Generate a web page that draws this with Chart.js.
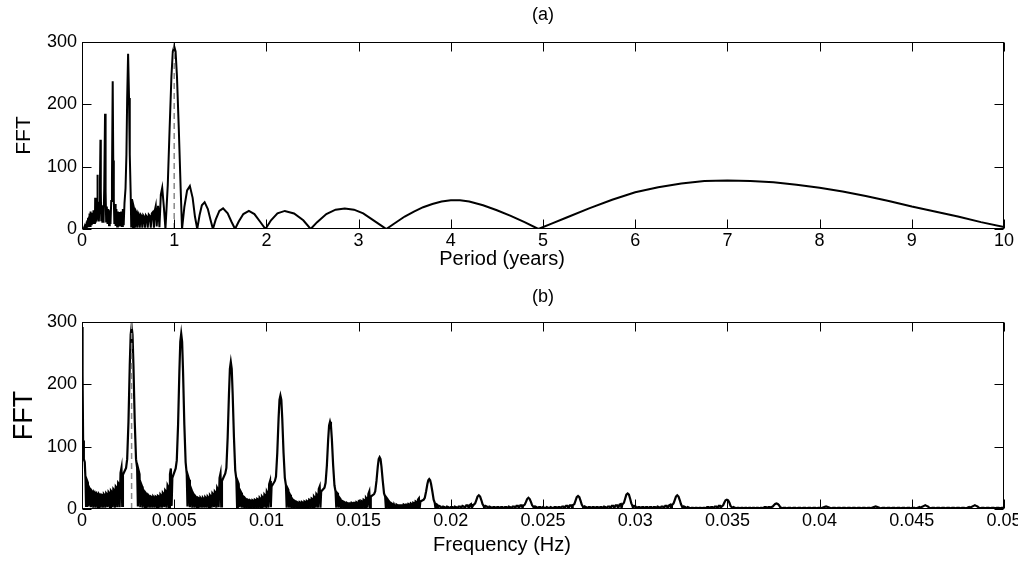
<!DOCTYPE html>
<html>
<head>
<meta charset="utf-8">
<script src="https://cdn.jsdelivr.net/npm/chart.js@4.4.1/dist/chart.umd.min.js"></script>
<style>
  html, body { margin: 0; padding: 0; background: #fff; }
  .panel { position: absolute; left: 0; width: 1018px; height: 282px; }
  #top { top: 0; }
  #bottom { top: 282px; }
</style>
</head>
<body>
<div class="panel" id="top"><canvas id="chartA" width="1018" height="282"></canvas></div>
<div class="panel" id="bottom"><canvas id="chartB" width="1018" height="282"></canvas></div>
<script>
// tick labels
var periodTickLabels = ['0', '1', '2', '3', '4', '5', '6', '7', '8', '9', '10'];
var freqTickLabels = ['0', '0.005', '0.01', '0.015', '0.02', '0.025', '0.03', '0.035', '0.04', '0.045', '0.05'];
var fftTickLabels = ['0', '100', '200', '300'];

// dashed marker (one year)
var markPeriod = 1;
var markFreq = 0.00269;

// (a) FFT vs period, [years, FFT]
var periodSpec = [
  [0,0],[0.02,1],[0.03,5],[0.035,1],[0.04,8],[0.045,2],[0.05,12],[0.054,2],[0.058,14],[0.062,3],
  [0.066,18],[0.069,3],[0.0714,12],[0.074,4],[0.077,20],[0.08,5],[0.0833,25],[0.087,5],[0.0909,28],[0.095,6],
  [0.1,26],[0.105,6],[0.111,24],[0.118,8],[0.125,30],[0.13,10],[0.136,22],[0.14,8],[0.143,50],[0.147,10],
  [0.152,28],[0.158,12],[0.163,40],[0.167,87],[0.171,15],[0.177,35],[0.183,12],[0.19,42],[0.195,75],[0.2,143],
  [0.204,60],[0.209,14],[0.215,35],[0.221,10],[0.228,38],[0.234,10],[0.241,65],[0.25,185],[0.256,60],[0.262,12],
  [0.269,36],[0.277,8],[0.285,32],[0.293,6],[0.301,30],[0.309,8],[0.317,45],[0.325,80],[0.333,237],[0.339,110],
  [0.345,48],[0.351,8],[0.358,40],[0.365,5],[0.373,32],[0.381,4],[0.389,28],[0.398,4],[0.407,27],[0.416,4],
  [0.425,28],[0.434,5],[0.443,32],[0.452,6],[0.461,42],[0.472,65],[0.482,120],[0.49,210],[0.5,281],[0.51,210],
  [0.518,120],[0.528,56],[0.534,4],[0.541,48],[0.548,40],[0.554,3],[0.562,35],[0.57,30],[0.577,2],[0.586,28],
  [0.594,25],[0.601,2],[0.61,25],[0.619,22],[0.627,2],[0.636,23],[0.645,21],[0.654,2],[0.664,22],[0.673,20],
  [0.683,2],[0.693,22],[0.703,20],[0.713,2],[0.724,23],[0.735,21],[0.746,2],[0.757,25],[0.768,27],[0.78,2],
  [0.79,30],[0.8,37],[0.81,4],[0.825,37],[0.84,3],[0.855,55],[0.87,66],[0.888,35],[0.905,0],
  [0.93,70],[0.95,160],[0.97,245],[0.985,285],[1,293],[1.015,285],[1.03,245],[1.05,160],[1.07,65],[1.085,0],
  [1.11,35],[1.14,62],[1.17,69],[1.2,50],[1.225,20],[1.25,0],
  [1.275,22],[1.3,38],[1.33,43],[1.365,32],[1.395,14],[1.42,0],
  [1.45,15],[1.49,29],[1.53,33],[1.58,25],[1.62,12],[1.66,0],
  [1.7,12],[1.75,24],[1.81,29],[1.87,24],[1.93,12],[1.99,0],
  [2.05,14],[2.12,25],[2.2,29],[2.3,25],[2.4,14],[2.48,0],
  [2.55,11],[2.65,24],[2.75,31],[2.85,33],[2.95,31],[3.05,25],[3.15,15],[3.25,5],[3.3,0],
  [3.4,10],[3.5,20],[3.6,28],[3.7,35],[3.8,40],[3.9,44],[4,46],[4.1,46],[4.2,44],[4.35,38],
  [4.5,30],[4.65,21],[4.8,11],[4.95,0],
  [5.1,9],[5.25,18],[5.5,33],[5.75,47],[6,59],[6.25,67],[6.5,73],[6.75,77],[7,78],[7.25,77],
  [7.5,75],[7.75,71],[8,66],[8.25,60],[8.5,53],[8.75,45],[9,36],[9.25,28],[9.5,20],[9.75,11],[10,3]
];

// (b) FFT vs frequency, [Hz, FFT]
var freqSpec = [
  [0,292],[0.00003,215],[0.00006,110],[0.0001,80],[0.00015,75],[0.00019,48],[0.00022,5],
  [0.00027,46],[0.00032,42],[0.00035,4],[0.0004,34],[0.00045,31],[0.00048,3],
  [0.00053,29],[0.00058,27],[0.00061,2],[0.00066,27],[0.00071,25],[0.00074,2],
  [0.00079,25],[0.00084,23],[0.00087,2],[0.00092,24],[0.00097,22],[0.001,2],
  [0.00105,23],[0.0011,22],[0.00113,2],[0.00118,24],[0.00123,22],[0.00126,2],
  [0.00131,25],[0.00136,23],[0.00139,3],[0.00144,27],[0.00149,25],[0.00152,2],
  [0.00157,29],[0.00162,27],[0.00165,3],[0.0017,32],[0.00175,30],[0.00178,2],
  [0.00183,36],[0.00188,34],[0.00191,3],[0.00196,42],[0.00201,40],[0.00204,3],
  [0.00209,58],[0.00214,66],[0.00218,5],
  [0.00222,55],[0.00239,66],[0.00245,80],[0.00252,140],[0.00259,230],[0.00264,280],[0.00269,293],
  [0.00274,280],[0.00279,230],[0.00286,140],[0.00293,80],[0.00299,66],[0.00303,4],
  [0.00307,62],[0.00312,56],[0.00316,3],[0.00321,40],[0.00326,36],[0.00329,2],
  [0.00334,30],[0.00339,27],[0.00342,2],[0.00347,25],[0.00352,23],[0.00355,2],
  [0.0036,22],[0.00365,20],[0.00368,2],[0.00373,20],[0.00378,19],[0.00381,2],
  [0.00386,20],[0.00391,18],[0.00394,2],[0.00399,20],[0.00404,19],[0.00407,2],
  [0.00412,21],[0.00417,20],[0.0042,2],[0.00425,23],[0.0043,21],[0.00433,2],
  [0.00438,26],[0.00443,24],[0.00446,3],[0.00451,30],[0.00456,28],[0.00459,2],
  [0.00464,38],[0.00469,35],[0.00472,3],[0.00477,56],[0.00482,65],[0.00486,5],
  [0.0049,50],[0.00508,65],[0.00514,78],[0.00521,135],[0.00528,220],[0.00533,268],[0.00538,281],
  [0.00543,268],[0.00548,220],[0.00555,135],[0.00562,75],[0.00568,56],[0.00572,4],
  [0.00576,52],[0.00581,47],[0.00585,3],[0.0059,34],[0.00595,30],[0.00598,2],
  [0.00603,25],[0.00608,22],[0.00611,2],[0.00616,20],[0.00621,18],[0.00624,2],
  [0.00629,18],[0.00634,17],[0.00637,2],[0.00642,18],[0.00647,16],[0.0065,2],
  [0.00655,18],[0.0066,16],[0.00663,2],[0.00668,19],[0.00673,17],[0.00676,2],
  [0.00681,20],[0.00686,18],[0.00689,2],[0.00694,22],[0.00699,20],[0.00702,2],
  [0.00707,25],[0.00712,23],[0.00715,3],[0.0072,28],[0.00725,26],[0.00728,2],
  [0.00733,34],[0.00738,31],[0.00741,3],[0.00746,50],[0.00751,57],[0.00755,4],
  [0.00759,45],[0.00777,57],[0.00783,66],[0.0079,115],[0.00797,185],[0.00802,225],[0.00807,236],
  [0.00812,225],[0.00817,185],[0.00824,115],[0.00831,62],[0.00837,48],[0.00841,3],
  [0.00845,44],[0.0085,40],[0.00854,3],[0.00859,29],[0.00864,26],[0.00867,2],
  [0.00872,21],[0.00877,19],[0.0088,1],[0.00885,17],[0.0089,15],[0.00893,1],
  [0.00898,15],[0.00903,14],[0.00906,1],[0.00911,14],[0.00916,13],[0.00919,1],
  [0.00924,14],[0.00929,13],[0.00932,1],[0.00937,15],[0.00942,14],[0.00945,1],
  [0.0095,16],[0.00955,15],[0.00958,1],[0.00963,18],[0.00968,16],[0.00971,2],
  [0.00976,20],[0.00981,18],[0.00984,2],[0.00989,23],[0.00994,21],[0.00997,2],
  [0.01002,28],[0.01007,25],[0.0101,2],[0.01015,40],[0.0102,45],[0.01024,3],
  [0.01028,36],[0.01046,45],[0.01052,52],[0.01059,90],[0.01066,145],[0.01071,175],[0.01076,182],
  [0.01081,175],[0.01086,145],[0.01093,90],[0.011,50],[0.01106,38],[0.0111,2],
  [0.01114,34],[0.01119,31],[0.01123,2],[0.01128,23],[0.01133,20],[0.01136,1],
  [0.01141,16],[0.01146,14],[0.01149,1],[0.01154,13],[0.01159,12],[0.01162,1],
  [0.01167,11],[0.01172,10],[0.01175,1],[0.0118,11],[0.01185,10],[0.01188,1],
  [0.01193,11],[0.01198,10],[0.01201,1],[0.01206,12],[0.01211,11],[0.01214,1],
  [0.01219,13],[0.01224,12],[0.01227,1],[0.01232,15],[0.01237,14],[0.0124,1],
  [0.01245,17],[0.0125,16],[0.01253,1],[0.01258,20],[0.01263,18],[0.01266,2],
  [0.01271,24],[0.01276,22],[0.01279,2],[0.01284,32],[0.01289,36],[0.01293,2],
  [0.01297,28],[0.01315,34],[0.01321,42],[0.01328,70],[0.01335,112],[0.0134,134],[0.01345,140],
  [0.0135,134],[0.01355,112],[0.01362,70],[0.01369,38],[0.01375,28],[0.01379,2],
  [0.01383,26],[0.01388,24],[0.01392,2],[0.01397,18],[0.01402,16],[0.01405,1],
  [0.0141,13],[0.01415,12],[0.01418,1],[0.01423,11],[0.01428,10],[0.01431,1],
  [0.01436,10],[0.01441,9],[0.01444,1],[0.01449,9],[0.01454,9],[0.01457,1],
  [0.01462,10],[0.01467,9],[0.0147,1],[0.01475,10],[0.0148,10],[0.01483,1],
  [0.01488,11],[0.01493,10],[0.01496,1],[0.01501,12],[0.01506,11],[0.01509,1],
  [0.01514,13],[0.01519,12],[0.01522,1],[0.01527,15],[0.01532,14],[0.01535,1],
  [0.0154,18],[0.01545,16],[0.01548,2],[0.01553,24],[0.01558,28],[0.01562,2],
  [0.01566,20],[0.01584,24],[0.0159,28],[0.01597,45],[0.01604,68],[0.01609,80],[0.01614,83],
  [0.01619,80],[0.01624,68],[0.01631,45],[0.01638,25],[0.01644,20],[0.01648,1],
  [0.01652,18],[0.01657,16],[0.01661,1],[0.01666,12],[0.01671,10],[0.01674,1],
  [0.01679,9],[0.01684,8],[0.01687,1],[0.01692,7],[0.01697,7],[0.017,1],
  [0.01705,7],[0.0171,6],[0.01713,1],[0.01718,6],[0.01723,6],[0.01726,1],
  [0.01731,6],[0.01736,6],[0.01739,1],[0.01744,7],[0.01749,6],[0.01752,1],
  [0.01757,7],[0.01762,7],[0.01765,1],[0.0177,8],[0.01775,7],[0.01778,1],
  [0.01783,9],[0.01788,8],[0.01791,1],[0.01796,10],[0.01801,9],[0.01804,1],
  [0.01809,12],[0.01814,11],[0.01817,1],[0.01822,15],[0.01827,17],[0.01831,1],
  [0.01835,12],[0.01853,15],[0.01859,18],[0.01866,28],[0.01873,40],[0.01878,46],[0.01883,48],
  [0.01888,46],[0.01893,40],[0.019,28],[0.01907,15],[0.01913,10],[0.01917,1],
  [0.01921,8],[0.01926,7],[0.0193,1],[0.01937,5],[0.01945,4],[0.0195,1],
  [0.01958,4],[0.01966,3],[0.01971,1],[0.01979,4],[0.01987,3],[0.01992,1],
  [0.02,3],[0.02008,3],[0.02013,1],[0.02021,4],[0.02029,3],[0.02034,1],
  [0.02042,4],[0.0205,4],[0.02055,1],[0.02063,5],[0.02071,4],[0.02076,1],
  [0.02084,6],[0.02092,6],[0.02097,1],[0.02105,7],[0.0211,8],[0.02114,2],
  [0.02122,6],[0.02132,9],[0.02138,14],[0.02145,20],[0.02152,22],[0.02159,20],[0.02166,14],[0.02172,8],[0.02178,5],[0.02182,1],
  [0.02188,5],[0.02196,4],[0.02201,1],[0.02209,4],[0.02217,3],[0.02222,1],
  [0.0223,3],[0.02238,3],[0.02243,1],[0.02251,3],[0.02259,3],[0.02264,1],
  [0.02272,3],[0.0228,3],[0.02285,1],[0.02293,3],[0.02301,3],[0.02306,1],
  [0.02314,4],[0.02322,3],[0.02327,1],[0.02335,4],[0.02343,4],[0.02348,1],
  [0.02356,5],[0.02364,5],[0.02369,1],[0.02377,6],[0.02385,6],[0.02389,1],
  [0.02392,5],[0.02401,7],[0.02407,11],[0.02414,16],[0.02421,18],[0.02428,16],[0.02435,11],[0.02441,6],[0.02447,4],[0.02451,1],
  [0.02457,4],[0.02465,3],[0.0247,1],[0.02478,3],[0.02486,3],[0.02491,1],
  [0.02499,3],[0.02507,2],[0.02512,1],[0.0252,3],[0.02528,2],[0.02533,1],
  [0.02541,3],[0.02549,2],[0.02554,1],[0.02562,3],[0.0257,3],[0.02575,1],
  [0.02583,3],[0.02591,3],[0.02596,1],[0.02604,4],[0.02612,4],[0.02617,1],
  [0.02625,5],[0.02633,5],[0.02638,1],[0.02646,6],[0.02654,6],[0.02658,1],
  [0.02661,6],[0.0267,8],[0.02676,13],[0.02683,19],[0.0269,21],[0.02697,19],[0.02704,13],[0.0271,7],[0.02716,4],[0.0272,1],
  [0.02726,4],[0.02734,3],[0.02739,1],[0.02747,3],[0.02755,3],[0.0276,1],
  [0.02768,3],[0.02776,3],[0.02781,1],[0.02789,3],[0.02797,3],[0.02802,1],
  [0.0281,3],[0.02818,3],[0.02823,1],[0.02831,4],[0.02839,3],[0.02844,1],
  [0.02852,4],[0.0286,4],[0.02865,1],[0.02873,5],[0.02881,5],[0.02886,1],
  [0.02894,6],[0.02902,6],[0.02907,1],[0.02915,7],[0.02922,8],[0.02926,1],
  [0.0293,7],[0.02939,10],[0.02945,16],[0.02952,23],[0.02959,25],[0.02966,23],[0.02973,16],[0.02979,9],[0.02985,5],[0.02989,1],
  [0.02995,5],[0.03003,4],[0.03008,1],[0.03016,3],[0.03024,3],[0.03029,1],
  [0.03037,3],[0.03045,3],[0.0305,1],[0.03058,3],[0.03066,3],[0.03071,1],
  [0.03079,3],[0.03087,3],[0.03092,1],[0.031,3],[0.03108,3],[0.03113,1],
  [0.03121,4],[0.03129,3],[0.03134,1],[0.03142,4],[0.0315,4],[0.03155,1],
  [0.03163,5],[0.03171,5],[0.03176,1],[0.03184,6],[0.03191,7],[0.03195,1],
  [0.03199,6],[0.03208,9],[0.03214,14],[0.03221,20],[0.03228,22],[0.03235,20],[0.03242,14],[0.03248,8],[0.03254,4],[0.03258,1],
  [0.03264,4],[0.03272,3],[0.03277,1],[0.03285,3],[0.03293,2],[0.03298,1],
  [0.03306,2],[0.03314,2],[0.03319,1],[0.03327,2],[0.03335,2],[0.0334,1],
  [0.03348,2],[0.03356,2],[0.03361,1],[0.03369,2],[0.03377,2],[0.03382,1],
  [0.0339,3],[0.03398,3],[0.03403,1],[0.03411,3],[0.03419,3],[0.03424,1],
  [0.03432,4],[0.0344,4],[0.03445,1],[0.03453,5],[0.0346,5],[0.03464,1],
  [0.03468,4],[0.03477,6],[0.03483,10],[0.0349,14],[0.03497,15],[0.03504,14],[0.03511,10],[0.03517,5],[0.03523,3],[0.03527,1],
  [0.03533,3],[0.03541,2],[0.03546,1],[0.03554,2],[0.03562,2],[0.03567,1],
  [0.03575,2],[0.03583,2],[0.03588,1],[0.03596,2],[0.03604,2],[0.03609,1],
  [0.03617,2],[0.03625,2],[0.0363,1],[0.03638,2],[0.03646,2],[0.03651,1],
  [0.03659,2],[0.03667,2],[0.03672,1],[0.0368,2],[0.03688,2],[0.03693,1],
  [0.03701,3],[0.03709,3],[0.03714,1],[0.03722,3],[0.03729,3],[0.03733,1],
  [0.03737,3],[0.03746,4],[0.03752,6],[0.03759,8],[0.03766,9],[0.03773,8],[0.0378,6],[0.03786,3],[0.03792,2],[0.03796,1],
  [0.03804,2],[0.03815,2],[0.0382,1],[0.03831,2],[0.03842,2],[0.03847,1],
  [0.03858,2],[0.03869,2],[0.03874,1],[0.03885,2],[0.03896,2],[0.03901,1],
  [0.03912,2],[0.03923,2],[0.03928,1],[0.03939,2],[0.0395,2],[0.03955,1],
  [0.03966,2],[0.03977,2],[0.03982,1],[0.03993,2],[0.04003,2],[0.04007,1],
  [0.04015,2],[0.04025,3],[0.04035,4],[0.04045,3],[0.04055,2],[0.04062,1],
  [0.04073,2],[0.04084,2],[0.04089,1],[0.041,2],[0.04111,2],[0.04116,1],
  [0.04127,2],[0.04138,2],[0.04143,1],[0.04154,2],[0.04165,2],[0.0417,1],
  [0.04181,2],[0.04192,2],[0.04197,1],[0.04208,2],[0.04219,2],[0.04224,1],
  [0.04235,2],[0.04246,2],[0.04251,1],[0.04262,2],[0.04272,2],[0.04276,1],
  [0.04284,2],[0.04294,3],[0.04304,4],[0.04314,3],[0.04324,2],[0.04331,1],
  [0.04342,2],[0.04353,2],[0.04358,1],[0.04369,2],[0.0438,2],[0.04385,1],
  [0.04396,2],[0.04407,2],[0.04412,1],[0.04423,2],[0.04434,2],[0.04439,1],
  [0.0445,2],[0.04461,2],[0.04466,1],[0.04477,2],[0.04488,2],[0.04493,1],
  [0.04504,2],[0.04515,2],[0.0452,1],[0.04531,2],[0.04541,3],[0.04545,1],
  [0.04551,3],[0.04559,4],[0.04566,5],[0.04573,6],[0.0458,5],[0.04587,4],[0.04595,2],[0.046,1],
  [0.04611,2],[0.04622,2],[0.04627,1],[0.04638,2],[0.04649,2],[0.04654,1],
  [0.04665,2],[0.04676,2],[0.04681,1],[0.04692,2],[0.04703,2],[0.04708,1],
  [0.04719,2],[0.0473,2],[0.04735,1],[0.04746,2],[0.04757,2],[0.04762,1],
  [0.04773,2],[0.04784,2],[0.04789,1],[0.048,2],[0.0481,3],[0.04814,1],
  [0.0482,3],[0.04828,4],[0.04835,5],[0.04842,6],[0.04849,5],[0.04856,4],[0.04864,2],[0.04869,1],
  [0.0488,2],[0.04891,2],[0.04896,1],[0.04907,2],[0.04918,2],[0.04923,1],
  [0.04934,2],[0.04945,2],[0.0495,1],[0.04961,2],[0.04972,2],[0.04977,1],[0.04988,2],[0.05,2]
];

Chart.defaults.font.family = '"Liberation Sans", Arial, Helvetica, sans-serif';
Chart.defaults.color = '#000';

function toPoints(arr) {
  return arr.map(function (p) { return { x: p[0], y: p[1] }; });
}

// box around the axes with inward ticks on all four sides
var framePlugin = {
  id: 'frame',
  afterDraw: function (chart) {
    var ctx = chart.ctx, a = chart.chartArea;
    var xs = chart.scales.x, ys = chart.scales.y;
    var L = Math.round(a.left) + 0.5, R = Math.round(a.right) - 0.5;
    var T = Math.round(a.top) + 0.5, B = Math.round(a.bottom) - 0.5;
    var len = 9;
    ctx.save();
    ctx.strokeStyle = '#000';
    ctx.lineWidth = 1;
    ctx.beginPath();
    xs.ticks.forEach(function (t) {
      var px = Math.round(xs.getPixelForValue(t.value)) + 0.5;
      ctx.moveTo(px, B); ctx.lineTo(px, B - len);
      ctx.moveTo(px, T); ctx.lineTo(px, T + len);
    });
    ys.ticks.forEach(function (t) {
      var py = Math.round(ys.getPixelForValue(t.value)) + 0.5;
      ctx.moveTo(L, py); ctx.lineTo(L + len, py);
      ctx.moveTo(R, py); ctx.lineTo(R - len, py);
    });
    ctx.stroke();
    ctx.strokeRect(L, T, R - L, B - T);
    ctx.restore();
  }
};

function makePanel(canvasId, opts) {
  return new Chart(document.getElementById(canvasId), {
    type: 'line',
    data: {
      datasets: [{
        data: [{ x: opts.mark, y: 0 }, { x: opts.mark, y: 300 }],
        borderColor: '#8a8a8a',
        borderWidth: 1.5,
        borderDash: [6, 4],
        pointRadius: 0,
        order: 0
      }, {
        data: toPoints(opts.spec),
        borderColor: '#000',
        borderWidth: opts.lineWidth,
        pointRadius: 0,
        tension: 0,
        order: 1
      }]
    },
    options: {
      responsive: false,
      animation: false,
      devicePixelRatio: 1,
      layout: { padding: { top: 4, right: 14, bottom: 0, left: 0 } },
      plugins: {
        legend: { display: false },
        tooltip: { enabled: false },
        // panel letter, centred over the axes box
        title: {
          display: true,
          fullSize: false,
          text: opts.title,
          color: '#000',
          font: { size: 18, weight: 'normal' },
          padding: { top: 0, bottom: opts.titleGap }
        },
        // x axis name, centred on the figure like the original
        subtitle: {
          display: true,
          position: 'bottom',
          text: opts.xTitle,
          color: '#000',
          font: { size: 20, weight: 'normal' },
          padding: { top: 0, bottom: opts.xTitleBottom }
        }
      },
      scales: {
        x: {
          type: 'linear',
          min: opts.xMin,
          max: opts.xMax,
          grid: { display: false, drawTicks: false },
          border: { display: false },
          ticks: {
            stepSize: opts.xStep,
            autoSkip: false,
            maxRotation: 0,
            padding: 1,
            font: { size: 18 },
            callback: function (v, i) { return opts.xLabels[i]; }
          },
          afterFit: function (s) {
            s.height = opts.xAxisHeight;
            s.paddingLeft = 0;
            s.paddingRight = 0;
          }
        },
        y: {
          min: 0,
          max: 300,
          grid: { display: false, drawTicks: false },
          border: { display: false },
          ticks: {
            stepSize: 100,
            padding: 5,
            font: { size: 18 },
            callback: function (v, i) { return fftTickLabels[i]; }
          },
          title: {
            display: true,
            text: 'FFT',
            font: { size: opts.yTitleSize },
            padding: { top: opts.yTitlePad, bottom: 0 }
          },
          afterFit: function (s) { s.width = 82; }
        }
      }
    },
    plugins: [framePlugin]
  });
}

makePanel('chartA', {
  spec: periodSpec, mark: markPeriod, title: '(a)', titleGap: 16.4,
  xMin: 0, xMax: 10, xStep: 1, xLabels: periodTickLabels, xTitle: 'Period (years)',
  xTitleBottom: 11, xAxisHeight: 18, yTitleSize: 21, yTitlePad: 12, lineWidth: 2
});

makePanel('chartB', {
  spec: freqSpec, mark: markFreq, title: '(b)', titleGap: 14.4,
  xMin: 0, xMax: 0.05, xStep: 0.005, xLabels: freqTickLabels, xTitle: 'Frequency (Hz)',
  xTitleBottom: 7, xAxisHeight: 24, yTitleSize: 27, yTitlePad: 8, lineWidth: 2.2
});
</script>
</body>
</html>
